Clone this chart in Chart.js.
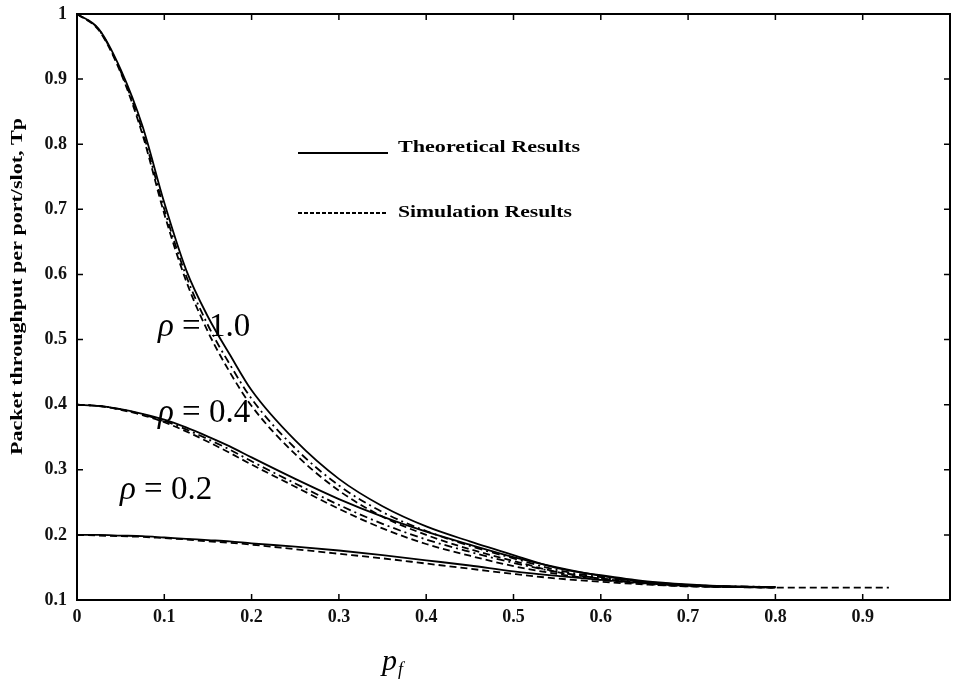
<!DOCTYPE html>
<html>
<head>
<meta charset="utf-8">
<script src="https://cdn.jsdelivr.net/npm/chart.js@4.4.1/dist/chart.umd.min.js"></script>
<style>
  html, body { margin: 0; padding: 0; background: #fff; }
  #wrap { width: 953px; height: 681px; position: relative; }
</style>
</head>
<body>
<div id="wrap"><canvas id="tp"></canvas></div>
<script>
const pfGrid = [0, 0.025, 0.05, 0.075, 0.1, 0.125, 0.15, 0.175, 0.2, 0.25, 0.3, 0.35, 0.4,
  0.45, 0.5, 0.55, 0.6, 0.65, 0.7, 0.75, 0.8, 0.85, 0.9, 0.93];

// theoretical (solid)
const theory10 = [1.0, 0.977, 0.915, 0.828, 0.71, 0.607, 0.535, 0.477, 0.422, 0.345, 0.286, 0.244, 0.213,
  0.19, 0.169, 0.149, 0.138, 0.129, 0.124, 0.121, 0.12];
const theory04 = [0.4, 0.398, 0.393, 0.386, 0.377, 0.365, 0.351, 0.336, 0.319, 0.286, 0.255, 0.228, 0.205,
  0.185, 0.166, 0.15, 0.137, 0.128, 0.123, 0.121, 0.12];
const theory02 = [0.2, 0.2, 0.199, 0.198, 0.196, 0.194, 0.192, 0.19, 0.187, 0.182, 0.176, 0.169, 0.161,
  0.153, 0.144, 0.137, 0.131, 0.126, 0.122, 0.12, 0.12];

// simulation (dashed)
const sim10 = [1.0, 0.975, 0.91, 0.815, 0.693, 0.59, 0.512, 0.45, 0.398, 0.324, 0.268, 0.228, 0.2,
  0.178, 0.16, 0.143, 0.133, 0.126, 0.122, 0.12, 0.119, 0.119, 0.119, 0.119];
const sim04 = [0.4, 0.398, 0.392, 0.384, 0.373, 0.359, 0.343, 0.326, 0.308, 0.274, 0.24, 0.21, 0.186,
  0.168, 0.152, 0.14, 0.131, 0.125, 0.121, 0.12, 0.119];
const sim02 = [0.2, 0.199, 0.198, 0.197, 0.195, 0.193, 0.19, 0.188, 0.185, 0.178, 0.171, 0.164, 0.156,
  0.148, 0.14, 0.133, 0.128, 0.124, 0.121, 0.12, 0.119];

// second simulation run (dash-dot)
const simB10 = [1.0, 0.976, 0.912, 0.82, 0.7, 0.598, 0.522, 0.462, 0.409, 0.333, 0.276, 0.235, 0.206,
  0.183, 0.164, 0.146, 0.135, 0.127, 0.123, 0.121, 0.12];
const simB04 = [0.4, 0.398, 0.393, 0.385, 0.375, 0.362, 0.347, 0.331, 0.313, 0.279, 0.246, 0.217, 0.193,
  0.174, 0.157, 0.143, 0.133, 0.126, 0.122, 0.12, 0.12];

const xTicks = [0, 0.1, 0.2, 0.3, 0.4, 0.5, 0.6, 0.7, 0.8, 0.9, 1];
const yTicks = [0.1, 0.2, 0.3, 0.4, 0.5, 0.6, 0.7, 0.8, 0.9, 1];

const toPoints = ys => ys.map((y, i) => ({ x: pfGrid[i], y: y }));

const line = (label, ys, dash) => ({
  label: label,
  data: toPoints(ys),
  borderColor: "#000",
  borderWidth: 1.8,
  borderDash: dash,
  pointRadius: 0,
  fill: false,
  cubicInterpolationMode: "monotone"
});

const DASH = [7, 4];
const DASHDOT = [8, 4, 2, 4];

const serif = "'Liberation Serif', 'DejaVu Serif', serif";

// text squeezed/stretched to the width it has in the scan
function wideText(ctx, str, x, y, font, width) {
  ctx.save();
  ctx.font = font;
  const w = ctx.measureText(str).width;
  ctx.translate(x, y);
  ctx.scale(width / w, 1);
  ctx.fillText(str, 0, 0);
  ctx.restore();
}

// "rho = value" with an italic rho
function rhoLabel(ctx, val, x, y) {
  ctx.font = "italic 33px " + serif;
  ctx.fillText("\u03C1", x, y);
  const w = ctx.measureText("\u03C1").width;
  ctx.font = "33px " + serif;
  ctx.fillText(" = " + val, x + w, y);
}

// frame, inward ticks and the loose text of the figure
const decor = {
  id: "decor",
  afterDraw(chart) {
    const { ctx, chartArea: a, scales } = chart;
    ctx.save();
    ctx.strokeStyle = "#000";
    ctx.lineWidth = 2;
    ctx.strokeRect(a.left, a.top, a.right - a.left, a.bottom - a.top);
    ctx.lineWidth = 1.5;
    ctx.beginPath();
    xTicks.forEach(v => {
      const px = scales.x.getPixelForValue(v);
      ctx.moveTo(px, a.bottom); ctx.lineTo(px, a.bottom - 6);
      ctx.moveTo(px, a.top); ctx.lineTo(px, a.top + 6);
    });
    yTicks.forEach(v => {
      const py = scales.y.getPixelForValue(v);
      ctx.moveTo(a.left, py); ctx.lineTo(a.left + 6, py);
      ctx.moveTo(a.right, py); ctx.lineTo(a.right - 6, py);
    });
    ctx.stroke();

    ctx.fillStyle = "#000";
    ctx.textBaseline = "middle";

    // legend
    ctx.lineWidth = 1.8;
    ctx.beginPath(); ctx.moveTo(298, 153); ctx.lineTo(388, 153); ctx.stroke();
    ctx.setLineDash([4, 2]);
    ctx.beginPath(); ctx.moveTo(298, 213); ctx.lineTo(388, 213); ctx.stroke();
    ctx.setLineDash([]);
    wideText(ctx, "Theoretical Results", 398, 148, "bold 17px " + serif, 182);
    wideText(ctx, "Simulation Results", 398, 213, "bold 17px " + serif, 174);

    // curve labels
    rhoLabel(ctx, "1.0", 158, 327);
    rhoLabel(ctx, "0.4", 158, 413);
    rhoLabel(ctx, "0.2", 120, 490);

    // x title p_f
    ctx.font = "italic 30px " + serif;
    ctx.fillText("p", 382, 662);
    ctx.font = "italic 18px " + serif;
    ctx.fillText("f", 398, 670);

    // y title
    ctx.translate(18, 287);
    ctx.rotate(-Math.PI / 2);
    wideText(ctx, "Packet throughput per port/slot, Tp", -168, 0, "bold 16px " + serif, 337);
    ctx.restore();
  }
};

new Chart(document.getElementById("tp"), {
  type: "line",
  data: {
    datasets: [
      line("Theoretical, rho=1.0", theory10, []),
      line("Simulation, rho=1.0", sim10, DASH),
      line("Simulation B, rho=1.0", simB10, DASHDOT),
      line("Theoretical, rho=0.4", theory04, []),
      line("Simulation, rho=0.4", sim04, DASH),
      line("Simulation B, rho=0.4", simB04, DASHDOT),
      line("Theoretical, rho=0.2", theory02, []),
      line("Simulation, rho=0.2", sim02, DASH)
    ]
  },
  options: {
    responsive: true,
    maintainAspectRatio: false,
    animation: false,
    layout: { padding: { top: 14, right: 3, left: 0, bottom: 0 } },
    plugins: { legend: { display: false }, tooltip: { enabled: false } },
    scales: {
      x: {
        type: "linear",
        min: 0,
        max: 1,
        afterBuildTicks: s => { s.ticks = xTicks.map(v => ({ value: v })); },
        afterFit: s => { s.height = 81; s.paddingLeft = 0; s.paddingRight = 0; },
        grid: { display: false, drawTicks: false },
        border: { display: false },
        ticks: {
          padding: 7,
          color: "#111",
          font: { family: serif, size: 18, weight: "bold" },
          callback: v => (v === 1 ? "" : (v === 0 ? "0" : v.toFixed(1)))
        }
      },
      y: {
        min: 0.1,
        max: 1,
        afterBuildTicks: s => { s.ticks = yTicks.map(v => ({ value: v })); },
        afterFit: s => { s.width = 77; s.paddingTop = 0; s.paddingBottom = 0; },
        grid: { display: false, drawTicks: false },
        border: { display: false },
        ticks: {
          padding: 10,
          color: "#111",
          font: { family: serif, size: 18, weight: "bold" },
          callback: v => (v === 1 ? "1" : v.toFixed(1))
        }
      }
    }
  },
  plugins: [decor]
});
</script>
</body>
</html>
